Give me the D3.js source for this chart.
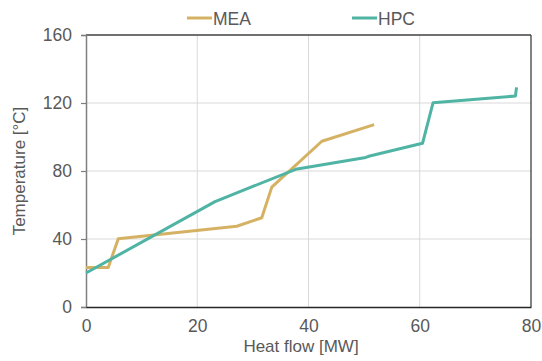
<!DOCTYPE html>
<html>
<head>
<meta charset="utf-8">
<script src="https://cdn.jsdelivr.net/npm/d3@7"></script>
<style>
  body { margin: 0; background: #fff; }
</style>
</head>
<body>
<div id="chart"></div>
<script>
// Data
var seriesNames = ['MEA', 'HPC'];
var meaHeat = [0, 4.0, 5.8, 27.1, 31.6, 33.4, 42.4, 51.8];
var meaTemp = [23.2, 23.2, 40.2, 47.5, 52.5, 70.5, 97.5, 107.3];
var hpcHeat = [0, 23.2, 37.7, 50.3, 51.0, 60.5, 62.4, 77.2, 77.4];
var hpcTemp = [20, 62, 81, 88.0, 88.8, 96.3, 120.2, 124.1, 129.2];
var xTicks = [0, 20, 40, 60, 80];
var yTicks = [0, 40, 80, 120, 160];

var colors = { MEA: '#d5b263', HPC: '#50b4a4' };

var width = 542, height = 361;
var margin = { top: 36, right: 11, bottom: 55, left: 86 };

var svg = d3.select('#chart').append('svg')
    .attr('width', width)
    .attr('height', height)
    .attr('font-family', 'Arial, Liberation Sans, sans-serif');

var x = d3.scaleLinear().domain([0, 80]).range([margin.left, width - margin.right]);
var y = d3.scaleLinear().domain([0, 160]).range([height - margin.bottom + 1, margin.top - 1]);

// gridlines
svg.append('g')
    .selectAll('line.vg')
    .data(xTicks.slice(1, -1))
    .enter().append('line')
    .attr('x1', d => x(d)).attr('x2', d => x(d))
    .attr('y1', y(0)).attr('y2', y(160))
    .attr('stroke', '#d9d9d9').attr('stroke-width', 1);

svg.append('g')
    .selectAll('line.hg')
    .data(yTicks.slice(1, -1))
    .enter().append('line')
    .attr('x1', x(0)).attr('x2', x(80))
    .attr('y1', d => y(d)).attr('y2', d => y(d))
    .attr('stroke', '#d9d9d9').attr('stroke-width', 1);

// frame
svg.append('line').attr('x1', x(0)).attr('x2', x(80)).attr('y1', y(160)).attr('y2', y(160))
    .attr('stroke', '#404040').attr('stroke-width', 1.3);
svg.append('line').attr('x1', x(80)).attr('x2', x(80)).attr('y1', y(0)).attr('y2', y(160))
    .attr('stroke', '#404040').attr('stroke-width', 1.3);

// axes
var yAxis = svg.append('g')
    .attr('transform', 'translate(' + x(0) + ',0)')
    .call(d3.axisLeft(y).tickValues(yTicks).tickSize(5).tickPadding(9));
yAxis.select('.domain').attr('stroke', '#7f7f7f').attr('stroke-width', 1.5);
yAxis.selectAll('.tick line').attr('stroke', '#7f7f7f').attr('stroke-width', 1.2);
yAxis.selectAll('.tick text').attr('fill', '#595959').style('font-size', '17.5px');

var xAxis = svg.append('g')
    .attr('transform', 'translate(0,' + y(0) + ')')
    .call(d3.axisBottom(x).tickValues(xTicks).tickSize(0).tickPadding(13));
xAxis.select('.domain').attr('stroke', '#262626').attr('stroke-width', 1.5);
xAxis.selectAll('.tick text').attr('fill', '#595959').style('font-size', '17.5px');

// axis titles
svg.append('text')
    .attr('x', 301).attr('y', 352)
    .attr('text-anchor', 'middle')
    .attr('fill', '#595959')
    .style('font-size', '17px')
    .text('Heat flow [MW]');

svg.append('text')
    .attr('transform', 'translate(25,' + 171 + ') rotate(-90)')
    .attr('text-anchor', 'middle')
    .attr('fill', '#595959')
    .style('font-size', '17px')
    .text('Temperature [°C]');

// lines
var line = d3.line().x(d => x(d[0])).y(d => y(d[1]));
var series = [
    { name: 'MEA', values: d3.zip(meaHeat, meaTemp) },
    { name: 'HPC', values: d3.zip(hpcHeat, hpcTemp) }
];

svg.selectAll('path.series')
    .data(series)
    .enter().append('path')
    .attr('class', 'series')
    .attr('d', d => line(d.values))
    .attr('fill', 'none')
    .attr('stroke', d => colors[d.name])
    .attr('stroke-width', 3)
    .attr('stroke-linejoin', 'round');

// legend
var legendX = [187, 352];
var legend = svg.selectAll('g.legend')
    .data(seriesNames)
    .enter().append('g')
    .attr('transform', (d, i) => 'translate(' + legendX[i] + ',18)');

legend.append('line')
    .attr('x1', 0).attr('x2', 25)
    .attr('stroke', d => colors[d]).attr('stroke-width', 3);

legend.append('text')
    .attr('x', 26).attr('y', 6.5)
    .attr('fill', '#595959')
    .style('font-size', '17.5px')
    .text(d => d);
</script>
</body>
</html>
